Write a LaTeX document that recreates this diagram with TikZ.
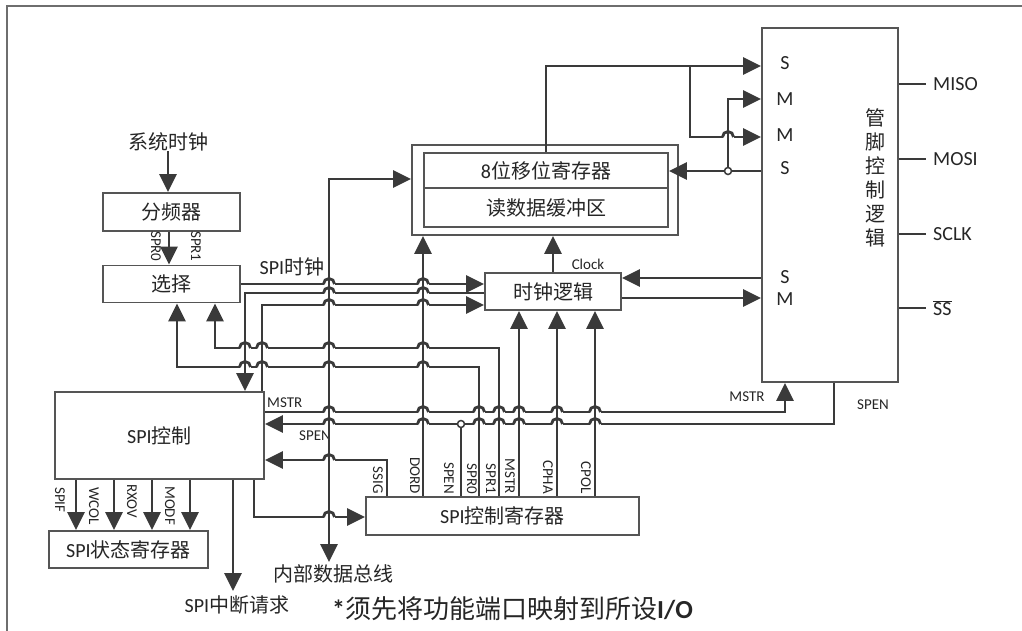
\documentclass[tikz,border=0pt]{standalone}
\usepackage{fontspec}
\setmainfont{Carlito}
\newfontfamily\cjk{Noto Sans CJK SC}
\usetikzlibrary{arrows.meta}
\definecolor{lnc}{HTML}{3A3A3A}
\definecolor{bxc}{HTML}{555555}
\definecolor{txc}{HTML}{262626}
\definecolor{frc}{HTML}{6E6E6E}
\newcommand\fsz[1]{\fontsize{#1}{#1}\selectfont}
\begin{document}
\begin{tikzpicture}[x=1pt,y=-1pt,
  >={Triangle[length=18pt,width=17pt]},
  box/.style={draw=bxc,line width=1.8pt,fill=white,inner sep=0pt,text=txc,font=\fsz{20}},
  big/.style={inner sep=0pt,text=txc,font=\fsz{20}},
  sm/.style={inner sep=0pt,text=txc,font=\fsz{15}},
  vl/.style={sm,rotate=-90,anchor=west},
  wire/.style={draw=lnc,line width=2.8pt},
  arr/.style={wire,->},
  pinw/.style={draw=lnc,line width=2.4pt},
  jdot/.style={circle,draw=lnc,fill=white,line width=1.5pt,inner sep=0pt,minimum size=7pt},
  hop/.pic={\fill[white] (-5.5,-2.5) rectangle (5.5,2.5);
            \draw[wire] (-5.5,0) arc[start angle=180,end angle=360,radius=5.5];
            \draw[wire] (0,-3.5) -- (0,3.5);}
]
\useasboundingbox (0,0) rectangle (1022,630);
\fill[white] (0,0) rectangle (1022,630);
\draw[frc,line width=2pt] (7,640) -- (7,6) -- (1030,6);

% ---------- nodes ----------
\node[big] (sysclk) at (168,142) {\cjk 系统时钟};
\node[box,minimum width=137pt,minimum height=38pt] (fp) at (171.5,212) {\cjk 分频器};
\node[box,minimum width=137pt,minimum height=37pt] (sel) at (171.5,284) {\cjk 选择};
\node[box,minimum width=266pt,minimum height=90pt] (sr) at (545,190) {};
\node[box,minimum width=244pt,minimum height=35pt] (shift) at (546,170.5) {8{\cjk 位移位寄存器}};
\node[box,minimum width=244pt,minimum height=39pt] (rbuf) at (546,207.5) {\cjk 读数据缓冲区};
\node[box,minimum width=136pt,minimum height=37pt] (clk) at (553,291.5) {\cjk 时钟逻辑};
\node[box,minimum width=136pt,minimum height=354pt] (pin) at (830,205) {};
\node[box,minimum width=209pt,minimum height=87pt] (ctl) at (159.5,435.5) {SPI{\cjk 控制}};
\node[box,minimum width=159pt,minimum height=37pt] (stat) at (128.5,549.5) {SPI{\cjk 状态寄存器}};
\node[box,minimum width=273pt,minimum height=38pt] (creg) at (502.5,516) {SPI{\cjk 控制寄存器}};

\node[big] (bustxt) at (333,574) {\cjk 内部数据总线};
\node[big] (irq) at (237,605) {SPI{\cjk 中断请求}};
\node[inner sep=0pt,anchor=west,text=txc,font=\fsz{26}] (note) at (332,609) {\textbf{*}{\cjk 须先将功能端口映射到所设}\textbf{I/O}};

\coordinate (busend) at (329,562);
\coordinate (irqend) at (233,591);

% pin box inner labels
\foreach \y/\t in {63/S,99/M,135/M,168/S,277/S,299/M} \node[big] at (785,\y) {\t};
\node[inner sep=0pt,text=txc,align=center,font=\cjk\fontsize{20}{24}\selectfont] (pintxt) at (875,178) {管\\脚\\控\\制\\逻\\辑};

% pin outputs
\node[big,anchor=west] (miso) at (933,84) {MISO};
\node[big,anchor=west] (mosi) at (933,159) {MOSI};
\node[big,anchor=west] (sclk) at (933,234) {SCLK};
\node[big,anchor=west] (ss) at (933,308) {$\overline{\mbox{SS}}$};
\foreach \n in {miso,mosi,sclk,ss} \draw[pinw] (pin.east |- \n.west) -- ([xshift=-7pt]\n.west);

% labels
\node[big] (spiclk) at (292,267) {SPI{\cjk 时钟}};
\node[sm] (clocklbl) at (588,264) {Clock};
\node[sm,anchor=west] (mstrA) at (267,403) {MSTR};
\node[sm] (spenA) at (315,436) {SPEN};
\node[sm] (mstrB) at (747,397) {MSTR};
\node[sm] (spenB) at (873,405) {SPEN};
\node[vl] at (156,231) {SPR0};
\node[vl] at (196,231) {SPR1};
\node[vl] at (60,487) {SPIF};
\node[vl] at (94,487) {WCOL};
\node[vl] at (132,484) {RXOV};
\node[vl] at (170,486) {MODF};
\foreach \x/\t in {378/SSIG,415/DORD,449/SPEN,472/SPR0,491/SPR1,510/MSTR,548/CPHA,586/CPOL}
  \node[sm,rotate=-90,anchor=east] at (\x,494) {\t};

% ---------- connectors ----------
\draw[arr] (sysclk.south) -- (sysclk.south |- fp.north);
\draw[arr] ([xshift=-2.5pt]fp.south) -- ([xshift=-2.5pt]sel.north);
\draw[arr] (sel.east) -- (sel.east -| clk.west);
\draw[arr] (clk.west |- 0,293) -| (ctl.north -| 245,0);
\draw[arr] (ctl.north -| 262,0) |- (clk.west |- 0,305);
\draw[arr] (creg.north -| 499,0) |- (215,348) -- (sel.south -| 215,0);
\draw[arr] (creg.north -| 479,0) |- (177,367) -- (sel.south -| 177,0);
\draw[arr] (ctl.east |- 0,412) -| (pin.south -| 785,0);
\draw[arr] (pin.south -| 834,0) |- (ctl.east |- 0,424);
\draw[wire] (creg.north -| 461,0) -- (461,424);
\draw[arr] (creg.north -| 387,0) |- (ctl.east |- 0,460);
\draw[arr] (creg.north -| 423,0) -- (sr.south -| 423,0);
\foreach \x in {519,557,595} \draw[arr] (creg.north -| \x,0) -- (clk.south -| \x,0);
\draw[arr] (ctl.south -| 254,0) |- (creg.west |- 0,517);
\foreach \x in {76,114,152,190} \draw[arr] (ctl.south -| \x,0) -- (stat.north -| \x,0);
\draw[arr] (ctl.south -| 233,0) -- (irqend);
\draw[wire,<->] (busend) -- (329,179) -- (sr.west |- 0,179);
\draw[arr] (shift.north) |- (pin.west |- 0,66);
\coordinate (jA) at (690,66);
\draw[arr] (jA) |- (pin.west |- 0,137);
\draw[arr] (pin.west |- 0,171) -- (shift.east |- 0,171);
\coordinate (jB) at (728,171);
\draw[arr] (jB) |- (pin.west |- 0,99);
\draw[arr] (pin.west |- 0,278) -- (clk.east |- 0,278);
\draw[arr] (clk.east |- 0,298) -- (pin.west |- 0,298);
\draw[arr] (clk.north) -- (clk.north |- sr.south);

% ---------- hops and junctions ----------
\foreach \y in {284,293,305,348,367,412,424,460,517} \pic at (329,\y) {hop};
\foreach \y in {284,293,305,348,367,412,424} \pic at (423,\y) {hop};
\foreach \x in {479,499,519,557,595} {\pic at (\x,412) {hop}; \pic at (\x,424) {hop};}
\foreach \x in {245,262} {\pic at (\x,348) {hop}; \pic at (\x,367) {hop};}
\pic at (728,137) {hop};
\node[jdot] at (461,424) {};
\node[jdot] at (jB) {};
\end{tikzpicture}
\end{document}
